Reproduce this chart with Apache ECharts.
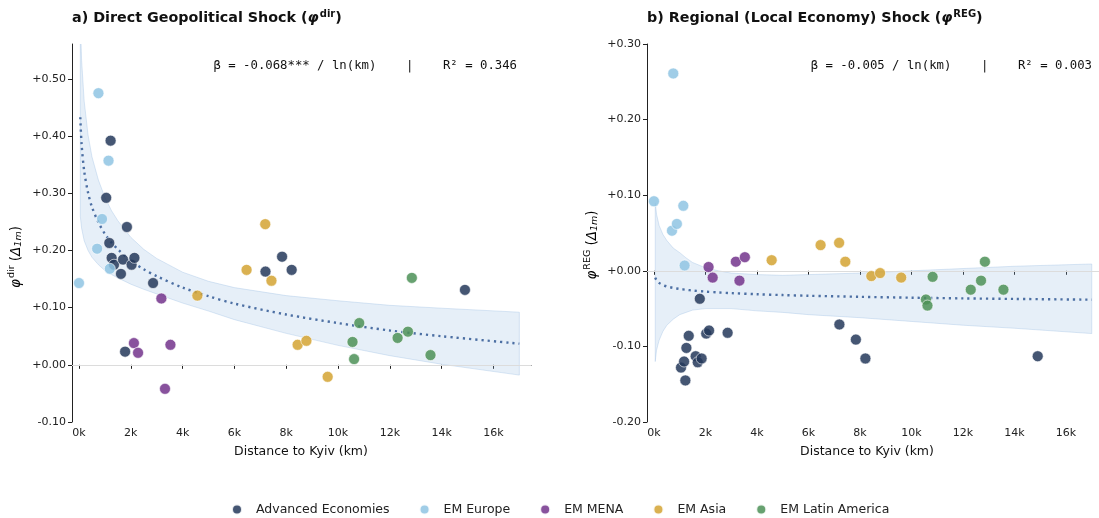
<!DOCTYPE html>
<html>
<head>
<meta charset="utf-8">
<script src="https://cdn.jsdelivr.net/npm/echarts@6/dist/echarts.min.js"></script>
<style>html,body{margin:0;padding:0;background:#fff}#c{width:1099px;height:518px}</style>
</head>
<body>
<div id="c"></div>
<script>
// ---- data ----
const groupNames = ['Advanced Economies', 'EM Europe', 'EM MENA', 'EM Asia', 'EM Latin America'];
const groupColors = ['#24385A', '#8FC4E3', '#73348C', '#D4A333', '#4C9057'];

// distance to Kyiv (km)
const distAdv   = [1050, 1170, 1220, 1260, 1350, 1620, 1700, 1780, 1850, 2030, 2140, 2860, 7200, 7840, 8210, 14900];
const distEur   = [0, 700, 750, 890, 1140, 1190];
const distMena  = [2120, 2280, 3180, 3320, 3530];
const distAsia  = [4570, 6470, 7190, 7430, 8440, 8780, 9600];
const distLatam = [10560, 10620, 10820, 12300, 12700, 12850, 13570];

// panel a) direct shock
const dirAdv   = [0.292, 0.213, 0.392, 0.187, 0.175, 0.159, 0.184, 0.023, 0.241, 0.175, 0.187, 0.143, 0.163, 0.189, 0.166, 0.131];
const dirEur   = [0.143, 0.203, 0.475, 0.255, 0.357, 0.168];
const dirMena  = [0.038, 0.021, 0.116, -0.042, 0.035];
const dirAsia  = [0.121, 0.166, 0.246, 0.147, 0.035, 0.042, -0.021];
const dirLatam = [0.040, 0.010, 0.073, 0.047, 0.058, 0.152, 0.017];

// panel b) regional shock
const regAdv   = [-0.128, -0.120, -0.145, -0.102, -0.086, -0.113, -0.121, -0.037, -0.116, -0.083, -0.079, -0.082, -0.071, -0.091, -0.116, -0.113];
const regEur   = [0.092, 0.053, 0.261, 0.062, 0.086, 0.007];
const regMena  = [0.005, -0.009, 0.012, -0.013, 0.018];
const regAsia  = [0.014, 0.034, 0.037, 0.012, -0.007, -0.003, -0.009];
const regLatam = [-0.038, -0.046, -0.008, -0.025, -0.013, 0.012, -0.025];

// fitted curves and confidence bands
const fitDist  = [50, 100, 200, 350, 500, 750, 1000, 1250, 1500, 2000, 2500, 3000, 4000, 5000, 6000, 8000, 10000, 12000, 14000, 17000];
const dirFit   = [0.433, 0.386, 0.339, 0.301, 0.276, 0.249, 0.229, 0.214, 0.202, 0.182, 0.167, 0.155, 0.135, 0.120, 0.107, 0.088, 0.073, 0.060, 0.050, 0.037];
const dirLow   = [0.260, 0.239, 0.217, 0.200, 0.188, 0.175, 0.165, 0.158, 0.152, 0.141, 0.132, 0.124, 0.108, 0.094, 0.079, 0.055, 0.034, 0.016, 0.001, -0.018];
const dirHigh  = [0.606, 0.533, 0.461, 0.402, 0.364, 0.323, 0.293, 0.270, 0.252, 0.223, 0.202, 0.186, 0.162, 0.146, 0.135, 0.121, 0.112, 0.104, 0.099, 0.092];
const regFit   = [-0.009, -0.0125, -0.016, -0.0188, -0.0206, -0.0226, -0.024, -0.0251, -0.0261, -0.0275, -0.0286, -0.0295, -0.031, -0.0321, -0.033, -0.0344, -0.0356, -0.0365, -0.0372, -0.0382];
const regLow   = [-0.120, -0.105, -0.092, -0.080, -0.072, -0.064, -0.058, -0.055, -0.052, -0.050, -0.050, -0.050, -0.053, -0.055, -0.058, -0.062, -0.067, -0.072, -0.076, -0.083];
const regHigh  = [0.090, 0.075, 0.060, 0.048, 0.040, 0.030, 0.024, 0.017, 0.011, 0.004, 0.000, -0.003, -0.005, -0.006, -0.005, -0.003, 0.000, 0.003, 0.006, 0.009];

const xTicks = [0, 2000, 4000, 6000, 8000, 10000, 12000, 14000, 16000];
const dirTicks = [-0.1, 0, 0.1, 0.2, 0.3, 0.4, 0.5];
const regTicks = [-0.2, -0.1, 0, 0.1, 0.2, 0.3];

const dirNote = 'β = -0.068*** / ln(km)    |    R² = 0.346';
const regNote = 'β = -0.005 / ln(km)    |    R² = 0.003';

// ---- build ----
const FONT = 'DejaVu Sans';
const zip = (a, b) => a.map((v, i) => [v, b[i]]);
const distGroups = [distAdv, distEur, distMena, distAsia, distLatam];
const dirGroups = [dirAdv, dirEur, dirMena, dirAsia, dirLatam];
const regGroups = [regAdv, regEur, regMena, regAsia, regLatam];

const yFmt = v => (v < -1e-9 ? '' : '+') + v.toFixed(2);
const kFmt = v => (v / 1000).toFixed(0) + 'k';

function xAxis(gi, max) {
  return {
    type: 'value', gridIndex: gi, min: -270, max: max,
    splitLine: { show: false },
    axisLine: { show: true, lineStyle: { color: '#222', width: 1 } },
    axisTick: { show: true, length: 4, lineStyle: { color: '#222' }, customValues: xTicks },
    axisLabel: { color: '#222', fontFamily: FONT, fontSize: 11, margin: 6, customValues: xTicks, formatter: kFmt }
  };
}
function yAxis(gi, min, max, ticks) {
  return {
    type: 'value', gridIndex: gi, min: min, max: max,
    splitLine: { show: false },
    axisLine: { show: true, onZero: false, lineStyle: { color: '#222', width: 1 } },
    axisTick: { show: true, length: 4, lineStyle: { color: '#222' }, customValues: ticks },
    axisLabel: { color: '#222', fontFamily: FONT, fontSize: 11, margin: 6, customValues: ticks, formatter: yFmt }
  };
}
function band(ai, lows, highs) {
  return {
    type: 'custom', xAxisIndex: ai, yAxisIndex: ai, clip: true, silent: true, z: 1,
    data: [[0, 0]],
    renderItem: function (params, api) {
      const pts = [];
      for (let i = 0; i < fitDist.length; i++) pts.push(api.coord([fitDist[i], highs[i]]));
      for (let i = fitDist.length - 1; i >= 0; i--) pts.push(api.coord([fitDist[i], lows[i]]));
      return { type: 'polygon', shape: { points: pts },
        style: { fill: 'rgba(140,180,222,0.22)', stroke: 'rgba(140,180,222,0.30)', lineWidth: 1, lineJoin: 'round' } };
    }
  };
}
function fitLine(ai, vals) {
  return {
    type: 'line', xAxisIndex: ai, yAxisIndex: ai, data: zip(fitDist, vals),
    showSymbol: false, smooth: 0.3, silent: true, z: 3,
    lineStyle: { color: '#4C6FA3', width: 2.4, type: [2.2, 4] },
    markLine: { silent: true, symbol: 'none', label: { show: false },
      lineStyle: { color: '#dcdcdc', width: 1, type: 'solid' }, data: [{ yAxis: 0 }] }
  };
}
function scatters(ai, ys) {
  return groupNames.map((n, g) => ({
    name: n, type: 'scatter', xAxisIndex: ai, yAxisIndex: ai,
    data: zip(distGroups[g], ys[g]), symbolSize: 11, z: 5,
    itemStyle: { color: groupColors[g], opacity: 0.85, borderColor: '#fff', borderWidth: 0.7 }
  }));
}

const richT = {
  b: { fontFamily: FONT, fontWeight: 'bold', fontSize: 14.3, color: '#111' },
  i: { fontFamily: FONT, fontStyle: 'italic', fontSize: 14.3, color: '#111' },
  sup: { fontFamily: FONT, fontSize: 10, color: '#111', padding: [0, 0, 9, 1] }
};
const richY = {
  i: { fontFamily: FONT, fontStyle: 'italic', fontSize: 13.5, color: '#111' },
  t: { fontFamily: FONT, fontSize: 13.5, color: '#111' },
  sup: { fontFamily: FONT, fontSize: 9.5, color: '#111', padding: [0, 0, 9, 1] },
  sub: { fontFamily: FONT, fontStyle: 'italic', fontSize: 9.5, color: '#111', padding: [6, 0, 0, 0] }
};

const option = {
  animation: false,
  backgroundColor: '#fff',
  title: [
    { left: 72, top: 9, padding: 0, text: '{b|a) Direct Geopolitical Shock (}{i|φ}{sup|dir}{b|)}', textStyle: { rich: richT } },
    { left: 647, top: 9, padding: 0, text: '{b|b) Regional (Local Economy) Shock (}{i|φ}{sup|REG}{b|)}', textStyle: { rich: richT } }
  ],
  grid: [
    { left: 72, top: 44, width: 459, height: 378 },
    { left: 647, top: 44, width: 452, height: 378 }
  ],
  xAxis: [xAxis(0, 17450), xAxis(1, 17280)],
  yAxis: [yAxis(0, -0.1, 0.561, dirTicks), yAxis(1, -0.2, 0.3, regTicks)],
  legend: {
    data: groupNames, top: 498, left: 226, icon: 'circle', itemWidth: 10, itemHeight: 10, itemGap: 29,
    textStyle: { fontFamily: FONT, fontSize: 12.5, color: '#222', padding: [0, 0, 0, 9] }
  },
  graphic: [
    { type: 'text', x: 517, y: 66, style: { text: dirNote, font: '12.3px "DejaVu Sans Mono"', fill: '#111', align: 'right', verticalAlign: 'middle' } },
    { type: 'text', x: 1092, y: 66, style: { text: regNote, font: '12.3px "DejaVu Sans Mono"', fill: '#111', align: 'right', verticalAlign: 'middle' } },
    { type: 'text', x: 301, y: 452, style: { text: 'Distance to Kyiv (km)', font: '12.5px "DejaVu Sans"', fill: '#111', align: 'center', verticalAlign: 'middle' } },
    { type: 'text', x: 867, y: 452, style: { text: 'Distance to Kyiv (km)', font: '12.5px "DejaVu Sans"', fill: '#111', align: 'center', verticalAlign: 'middle' } },
    { type: 'text', x: 16, y: 257, rotation: Math.PI / 2,
      style: { text: '{i|φ}{sup|dir}{t| (}{i|Δ}{sub|1m}{t|)}', rich: richY, align: 'center', verticalAlign: 'middle' } },
    { type: 'text', x: 592, y: 245, rotation: Math.PI / 2,
      style: { text: '{i|φ}{sup|REG}{t| (}{i|Δ}{sub|1m}{t|)}', rich: richY, align: 'center', verticalAlign: 'middle' } }
  ],
  series: [
    band(0, dirLow, dirHigh), fitLine(0, dirFit),
    band(1, regLow, regHigh), fitLine(1, regFit)
  ].concat(scatters(0, dirGroups), scatters(1, regGroups))
};

const chart = echarts.init(document.getElementById('c'), null, { renderer: 'canvas' });
chart.setOption(option);
</script>
</body>
</html>
